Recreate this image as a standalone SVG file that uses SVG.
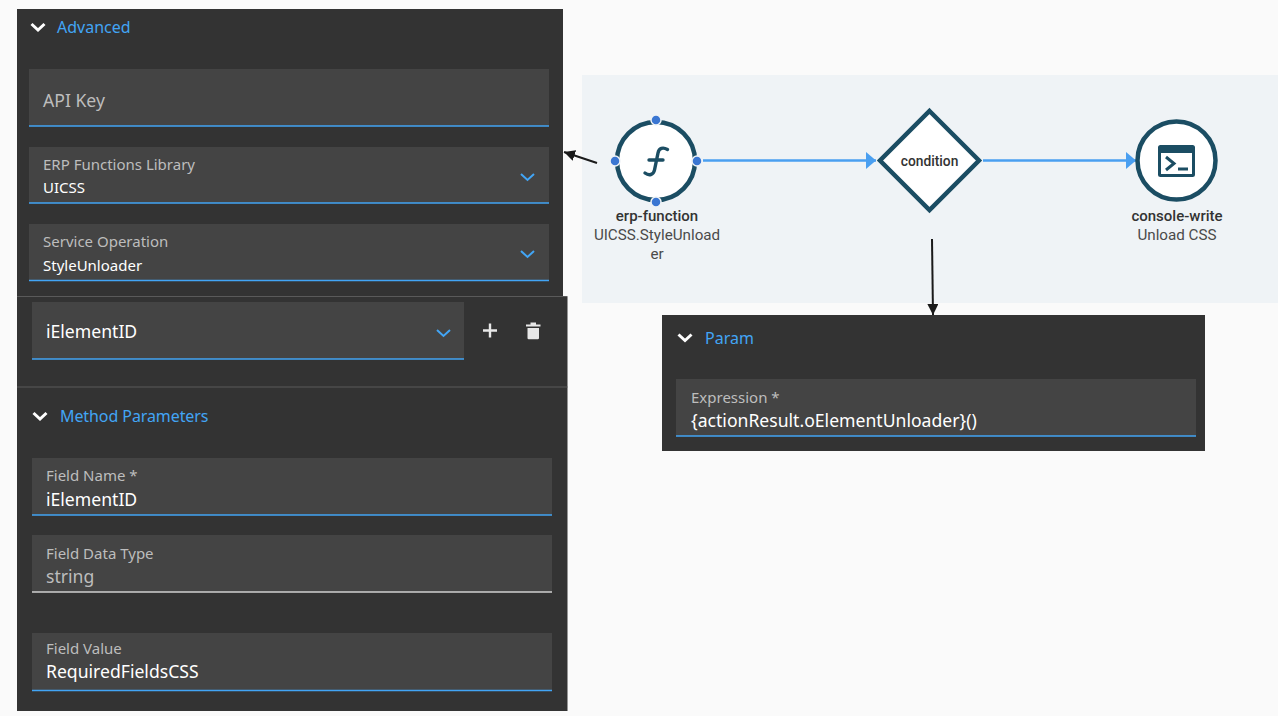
<svg xmlns="http://www.w3.org/2000/svg" width="1278" height="716" viewBox="0 0 1278 716">
<style>
.ui{font-family:"Noto Sans","Open Sans","Liberation Sans",sans-serif}
.panel{fill:#333333}
.field{fill:#444444}
.line{stroke:#42a5f5;stroke-width:1.4;fill:none}
.head{font-size:16px;fill:#42a5f5}
.lab{font-size:15px;fill:#bdbdbd}
.val{font-size:15px;fill:#ffffff}
.big{font-size:17.6px;fill:#ffffff}
.dim{font-size:17.6px;fill:#bdbdbd}
.chev{stroke:#ffffff;stroke-width:3;fill:none}
.drop{stroke:#42a5f5;stroke-width:2;fill:none}
.sep{stroke:#5a5a5a;stroke-width:1.2}
.n1{font-family:Roboto,"Liberation Sans",sans-serif;font-size:15px;font-weight:500;fill:#333333;text-anchor:middle}
.n2{font-family:Roboto,"Liberation Sans",sans-serif;font-size:15.200px;fill:#4a4a4a;text-anchor:middle}
.node{fill:#ffffff;stroke:#1b4d63;stroke-width:4.5}
.port{fill:#3a76d2;stroke:#eff3f6;stroke-width:1.5}
.flow{stroke:#4a9ff0;stroke-width:2.4;fill:none;marker-end:url(#ba)}
.call{stroke:#1a1a1a;stroke-width:2;fill:none;marker-end:url(#ka)}
</style>
<defs>
<marker id="ba" markerUnits="userSpaceOnUse" markerWidth="12" markerHeight="18" refX="10" refY="8.500" orient="auto"><path d="M0 0L10 8.500L0 17Z" fill="#4a9ff0"/></marker>
<marker id="ka" markerUnits="userSpaceOnUse" markerWidth="12" markerHeight="12" refX="11" refY="5.500" orient="auto"><path d="M0 0L11 5.500L0 11Z" fill="#1a1a1a"/></marker>
</defs>
<rect width="1278" height="716" fill="#fafafa"/>
<rect x="582" y="75" width="696" height="228" fill="#eff3f6"/>

<g id="panel-advanced" class="ui">
<rect class="panel" x="17" y="9" width="546" height="288"/>
<path class="chev" d="M31.500 24l6.500 6 6.500-6"/>
<text class="head" x="57" y="33">Advanced</text>
<rect class="field" x="29" y="69" width="520" height="57"/>
<path class="line" d="M29 126H549"/>
<text class="dim" x="43" y="107">API Key</text>
<rect class="field" x="29" y="147" width="520" height="56"/>
<path class="line" d="M29 203H549"/>
<text class="lab" x="43" y="170">ERP Functions Library</text>
<text class="val" x="43" y="193">UICSS</text>
<path class="drop" d="M521 174l6.500 6 6.500-6"/>
<rect class="field" x="29" y="224" width="520" height="56"/>
<path class="line" d="M29 280.500H549"/>
<text class="lab" x="43" y="247">Service Operation</text>
<text class="val" x="43" y="271">StyleUnloader</text>
<path class="drop" d="M521 251l6.500 6 6.500-6"/>
</g>

<g id="panel-parameters" class="ui">
<rect class="panel" x="17" y="297" width="550.500" height="414"/>
<path class="sep" d="M17 296.500H567.500M17 387H567.500"/>
<rect class="field" x="32" y="302" width="432" height="57"/>
<path class="line" d="M32 359H464"/>
<text class="big" x="46" y="338">iElementID</text>
<path class="drop" d="M437 330l6.500 6 6.500-6"/>
<path d="M483 330.500H497M490 323.500V337.500" stroke="#e8e8e8" stroke-width="2.400" fill="none"/>
<path d="M526 324.500H540.500V326.500H526ZM530.500 322.500H536V324.500H530.500ZM527.500 328H539V338a1.200 1.200 0 0 1-1.200 1.200H528.700a1.200 1.200 0 0 1-1.200-1.200Z" fill="#e8e8e8"/>
<path class="chev" d="M33.500 413l6.500 6 6.500-6"/>
<text class="head" x="60" y="422" textLength="148.500">Method Parameters</text>
<rect class="field" x="32" y="458" width="520" height="57"/>
<path class="line" d="M32 515H552"/>
<text class="lab" x="46" y="481">Field Name *</text>
<text class="big" x="46" y="505.500">iElementID</text>
<rect class="field" x="32" y="535" width="520" height="57"/>
<path d="M32 592H552" stroke="#d0d0d0" stroke-width="1.400"/>
<text class="lab" x="46" y="559">Field Data Type</text>
<text class="dim" x="46" y="582.500">string</text>
<rect class="field" x="32" y="633" width="520" height="57"/>
<path class="line" d="M32 690.500H552"/>
<text class="lab" x="46" y="654">Field Value</text>
<text class="big" x="46" y="678">RequiredFieldsCSS</text>
</g>

<g id="panel-param" class="ui">
<rect class="panel" x="662" y="315" width="543" height="136"/>
<path class="chev" d="M678.500 334.500l6.500 6 6.500-6"/>
<text class="head" x="705" y="343.500">Param</text>
<rect class="field" x="676" y="379" width="520" height="57"/>
<path class="line" d="M676 436H1196"/>
<text class="lab" x="691" y="403">Expression *</text>
<text class="big" x="691" y="426.500">{actionResult.oElementUnloader}()</text>
</g>

<g id="connectors">
<path class="flow" d="M703 160.500H876"/>
<path class="flow" d="M983 160.500H1136"/>
<path class="call" d="M597 163L564 152"/>
<path class="call" d="M932 239L933 315"/>
</g>

<g id="node-erp-function">
<circle class="node" cx="656" cy="161" r="39"/>
<path d="M667.500 149.500C663 147 659 148 658 153L654.500 170C653.500 175 649 176 645 173M649 160H663" fill="none" stroke="#1b4d63" stroke-width="3.400" stroke-linecap="round"/>
<circle class="port" cx="656" cy="120" r="5"/>
<circle class="port" cx="656" cy="202" r="5"/>
<circle class="port" cx="615" cy="161" r="5"/>
<circle class="port" cx="697" cy="161" r="5"/>
<text class="n1" x="657" y="221">erp-function</text>
<text class="n2" x="657" y="240">UICSS.StyleUnload</text>
<text class="n2" x="657" y="259">er</text>
</g>

<g id="node-condition">
<path class="node" d="M929.500 111L979 160.500L929.500 210L880 160.500Z"/>
<text class="n1" x="929.500" y="166" style="font-size:13.800px">condition</text>
</g>

<g id="node-console-write">
<circle class="node" cx="1176.500" cy="160.500" r="39"/>
<path fill-rule="evenodd" fill="#1b4d63" d="M1160.500 145H1192.500a2.500 2.500 0 0 1 2.500 2.500V174.500a2.500 2.500 0 0 1-2.500 2.500H1160.500a2.500 2.500 0 0 1-2.500-2.500V147.500a2.500 2.500 0 0 1 2.500-2.500ZM1161 153V174H1192V153Z"/>
<path d="M1166 157l8 6.500-8 6.500" fill="none" stroke="#1b4d63" stroke-width="3"/>
<path d="M1178 169H1188" stroke="#1b4d63" stroke-width="3"/>
<text class="n1" x="1177" y="221">console-write</text>
<text class="n2" x="1177" y="240">Unload CSS</text>
</g>
</svg>
